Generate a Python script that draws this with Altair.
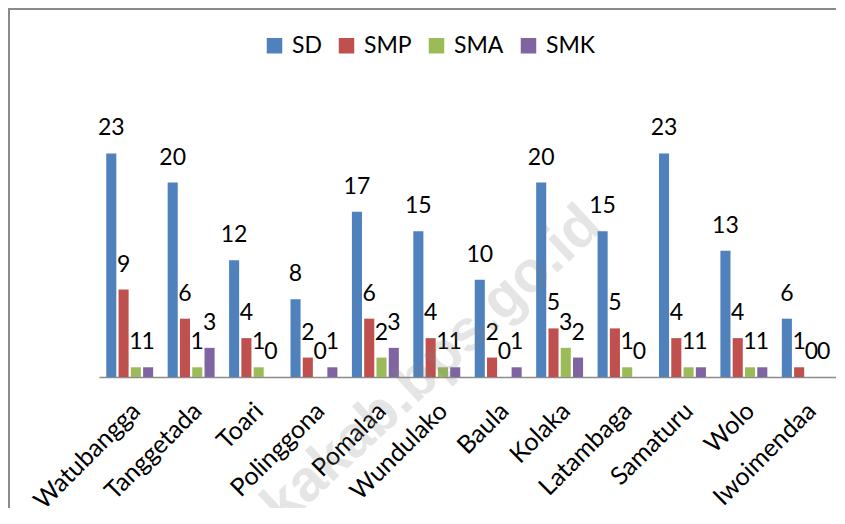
import altair as alt
import pandas as pd

districts = ["Watubangga", "Tanggetada", "Toari", "Polinggona", "Pomalaa", "Wundulako",
             "Baula", "Kolaka", "Latambaga", "Samaturu", "Wolo", "Iwoimendaa"]
sd = [23, 20, 12, 8, 17, 15, 10, 20, 15, 23, 13, 6]
smp = [9, 6, 4, 2, 6, 4, 2, 5, 5, 4, 4, 1]
sma = [1, 1, 1, 0, 2, 1, 0, 3, 1, 1, 1, 0]
smk = [1, 3, 0, 1, 3, 1, 1, 2, 0, 1, 1, 0]
series = ["SD", "SMP", "SMA", "SMK"]
colors = ["#4F81BD", "#C0504D", "#9BBB59", "#8064A2"]
watermark = "kolakakab.bps.go.id"

rows = []
for name, vals in zip(series, [sd, smp, sma, smk]):
    for d, v in zip(districts, vals):
        rows.append({"district": d, "series": name, "value": v})
df = pd.DataFrame(rows)

FONT = "Lato"

x = alt.X("district:N", sort=districts,
          scale=alt.Scale(paddingInner=0.2, paddingOuter=0.1),
          axis=alt.Axis(title=None, labelAngle=-45, labelFont=FONT, labelFontSize=25,
                        labelColor="#000000", ticks=False, domainColor="#8c8c8c",
                        domainWidth=1.5, labelPadding=21, labelOffset=-2,
                        labelOverlap=False, labelBound=False))
xo = alt.XOffset("series:N", sort=series,
                 scale=alt.Scale(paddingInner=0.18, paddingOuter=0.09))
y = alt.Y("value:Q", scale=alt.Scale(domain=[0, 25]), axis=None)
color = alt.Color("series:N", sort=series,
                  scale=alt.Scale(domain=series, range=colors),
                  legend=alt.Legend(title=None, orient="none", legendX=164, legendY=-100,
                                    direction="horizontal", symbolType="square",
                                    symbolSize=240, symbolStrokeWidth=0,
                                    labelFont=FONT, labelFontSize=23, labelColor="#000000",
                                    labelOffset=6, columnPadding=13, padding=0))

base = alt.Chart(df)
bars = base.mark_bar().encode(x=x, xOffset=xo, y=y, color=color)
labels = base.mark_text(dy=-18, baseline="alphabetic", font=FONT, fontSize=23,
                        color="#000000").encode(x=x, xOffset=xo, y=y, text="value:Q")

one = pd.DataFrame({"t": [watermark]})
frame = alt.Chart(one).mark_rect(fill="transparent", stroke="#8a8a8a", strokeWidth=2).encode(
    x=alt.value(-90), x2=alt.value(900), y=alt.value(-125), y2=alt.value(600))
wm = alt.Chart(one).mark_text(align="right", baseline="alphabetic", angle=317,
                              font="Liberation Sans", fontWeight="bold", fontSize=58,
                              color="#808080", opacity=0.2).encode(
    x=alt.value(505), y=alt.value(95), text="t:N")

chart = alt.layer(frame, bars, labels, wm).properties(
    width=737, height=243,
    padding={"left": 91, "top": 126, "right": 0, "bottom": 131},
    autosize=alt.AutoSizeParams(type="none"),
).configure_view(strokeWidth=0)

chart.save("out.html", embed_options={"renderer": "svg", "actions": False})
